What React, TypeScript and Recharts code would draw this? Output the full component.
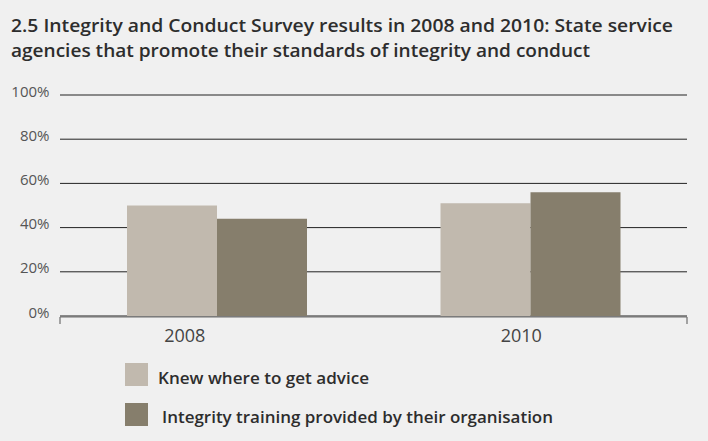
import React from 'react';
import { BarChart, Bar, XAxis, YAxis, CartesianGrid } from 'recharts';

const TITLE_LINES = [
  '2.5 Integrity and Conduct Survey results in 2008 and 2010: State service',
  'agencies that promote their standards of integrity and conduct',
];
const YEARS = ['2008', '2010'];
const KNEW_ADVICE = [50, 51];
const TRAINING = [44, 56];
const SERIES_KEYS = ['advice', 'training'];
const SERIES_NAMES = ['Knew where to get advice', 'Integrity training provided by their organisation'];
const SERIES_COLORS = ['#c1b9ae', '#867e6c'];
const Y_TICKS = [0, 20, 40, 60, 80, 100];
const EDGE_TICKS = [0, 1, 2];

const data = YEARS.map((year, i) => ({ year, advice: KNEW_ADVICE[i], training: TRAINING[i] }));

const FONT = "'Open Sans', 'DejaVu Sans', sans-serif";
const X_LABEL_SHIFT = [-32, -9];

const XTick = (props: any) => {
  const { x, y, payload, index } = props;
  return (
    <text x={x + (X_LABEL_SHIFT[index] ?? 0)} y={y + 26} textAnchor="middle" fontFamily={FONT} fontSize={18} fill="#444">
      {payload.value}
    </text>
  );
};

const YTick = (props: any) => {
  const { x, y, payload } = props;
  return (
    <text x={x - 10.5} y={y + 1.5} textAnchor="end" fontFamily={FONT} fontSize={15} fill="#555">
      {`${payload.value}%`}
    </text>
  );
};

const EmptyTick = () => <g />;

const TITLE_LAYOUT = [
  { x: 11, y: 32, len: 662 },
  { x: 11, y: 57, len: 579 },
];
const LEGEND_LAYOUT = [
  { sy: 363, tx: 158, ty: 384, len: 211 },
  { sy: 403, tx: 162, ty: 423, len: 391 },
];

export default function App() {
  return (
    <div
      style={{
        position: 'absolute',
        left: 0,
        top: 0,
        width: 708,
        height: 441,
        background: '#f0f0f0',
        overflow: 'hidden',
      }}
    >
      <BarChart
        width={708}
        height={441}
        data={data}
        margin={{ top: 95, right: 21, left: 0, bottom: 123 }}
        barSize={90}
        barGap={0}
      >
        <CartesianGrid vertical={false} stroke="#222" xAxisId="cat" />
        <XAxis
          xAxisId="edge"
          type="number"
          domain={[0, 2]}
          ticks={EDGE_TICKS}
          tick={<EmptyTick />}
          tickLine={{ stroke: '#6e6e6e', strokeWidth: 1.2 }}
          axisLine={{ stroke: '#6e6e6e', strokeWidth: 1.2 }}
          tickSize={7}
          height={1}
          interval={0}
          allowDataOverflow
        />
        <XAxis
          xAxisId="cat"
          dataKey="year"
          axisLine={false}
          tickLine={false}
          tickSize={0}
          tickMargin={0}
          tick={<XTick />}
          height={1}
          interval={0}
        />
        <YAxis
          domain={[0, 100]}
          ticks={Y_TICKS}
          axisLine={false}
          tickLine={false}
          tickSize={0}
          tickMargin={0}
          width={60}
          tick={<YTick />}
        />
        {SERIES_KEYS.map((k, i) => (
          <Bar
            key={k}
            xAxisId="cat"
            dataKey={k}
            name={SERIES_NAMES[i]}
            fill={SERIES_COLORS[i]}
            isAnimationActive={false}
          />
        ))}
      </BarChart>
      <svg
        width={708}
        height={441}
        style={{ position: 'absolute', left: 0, top: 0, pointerEvents: 'none' }}
      >
        {TITLE_LINES.map((t, i) => (
          <text
            key={i}
            x={TITLE_LAYOUT[i].x}
            y={TITLE_LAYOUT[i].y}
            fontFamily={FONT}
            fontWeight={600}
            fontSize={18.5}
            fill="#2d2d2d"
            textLength={TITLE_LAYOUT[i].len}
            lengthAdjust="spacingAndGlyphs"
          >
            {t}
          </text>
        ))}
        {SERIES_NAMES.map((n, i) => (
          <g key={n}>
            <rect x={125} y={LEGEND_LAYOUT[i].sy} width={23} height={23} fill={SERIES_COLORS[i]} />
            <text
              x={LEGEND_LAYOUT[i].tx}
              y={LEGEND_LAYOUT[i].ty}
              fontFamily={FONT}
              fontWeight={600}
              fontSize={17}
              fill="#2d2d2d"
              textLength={LEGEND_LAYOUT[i].len}
              lengthAdjust="spacingAndGlyphs"
            >
              {n}
            </text>
          </g>
        ))}
      </svg>
    </div>
  );
}
